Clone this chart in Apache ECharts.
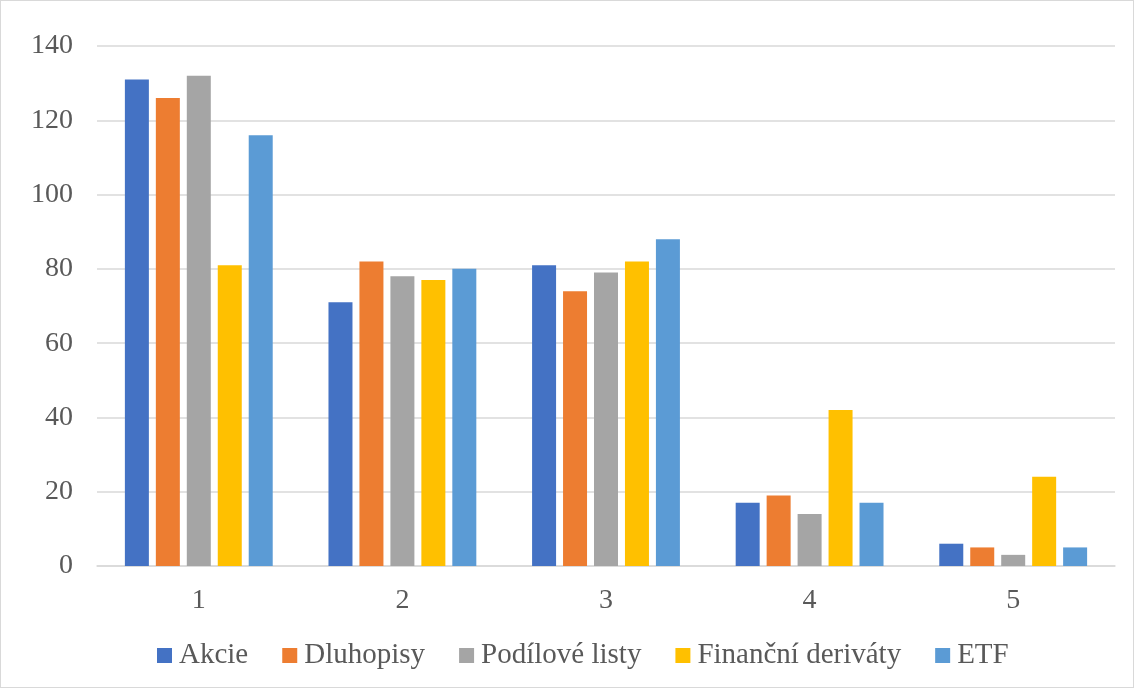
<!DOCTYPE html>
<html lang="cs">
<head>
  <meta charset="UTF-8">
  <title>Investiční nástroje</title>
  <script src="https://cdn.jsdelivr.net/npm/echarts@6/dist/echarts.min.js"></script>
  <style>
    html, body { margin: 0; padding: 0; background: #fff; }
    #chart {
      width: 1132px; height: 686px;
      border: 1px solid #d9d9d9;
    }
  </style>
</head>
<body>
<div id="chart"></div>
<script>
  // data
  const categories = ['1', '2', '3', '4', '5'];
  const akcie = [131, 71, 81, 17, 6];
  const dluhopisy = [126, 82, 74, 19, 5];
  const podiloveListy = [132, 78, 79, 14, 3];
  const derivaty = [81, 77, 82, 42, 24];
  const etf = [116, 80, 88, 17, 5];

  const font = '"Liberation Serif", "Times New Roman", serif';
  const chart = echarts.init(document.getElementById('chart'));

  function bar(name, data, color) {
    return {
      name: name,
      type: 'bar',
      data: data,
      barWidth: 24,
      barGap: '29%',
      itemStyle: { color: color },
      emphasis: { disabled: true }
    };
  }

  chart.setOption({
    animation: false,
    textStyle: { fontFamily: font },
    grid: { left: 96, right: 18, top: 45, bottom: 121 },
    legend: {
      bottom: 12,
      left: 151,
      itemWidth: 15,
      itemHeight: 15,
      itemGap: 34,
      icon: 'rect',
      textStyle: { fontFamily: font, fontSize: 29, color: '#595959', padding: [0, 0, 0, 2] }
    },
    xAxis: {
      type: 'category',
      data: categories,
      axisLine: { lineStyle: { color: '#d9d9d9', width: 1.5 } },
      axisTick: { show: false },
      axisLabel: { fontFamily: font, fontSize: 28, color: '#595959', margin: 21 }
    },
    yAxis: {
      type: 'value',
      min: 0,
      max: 140,
      interval: 20,
      axisLine: { show: false },
      axisTick: { show: false },
      splitLine: { lineStyle: { color: '#d9d9d9', width: 1.5 } },
      axisLabel: { fontFamily: font, fontSize: 28, color: '#595959', margin: 24 }
    },
    series: [
      bar('Akcie', akcie, '#4472c4'),
      bar('Dluhopisy', dluhopisy, '#ed7d31'),
      bar('Podílové listy', podiloveListy, '#a5a5a5'),
      bar('Finanční deriváty', derivaty, '#ffc000'),
      bar('ETF', etf, '#5b9bd5')
    ]
  });
</script>
</body>
</html>
